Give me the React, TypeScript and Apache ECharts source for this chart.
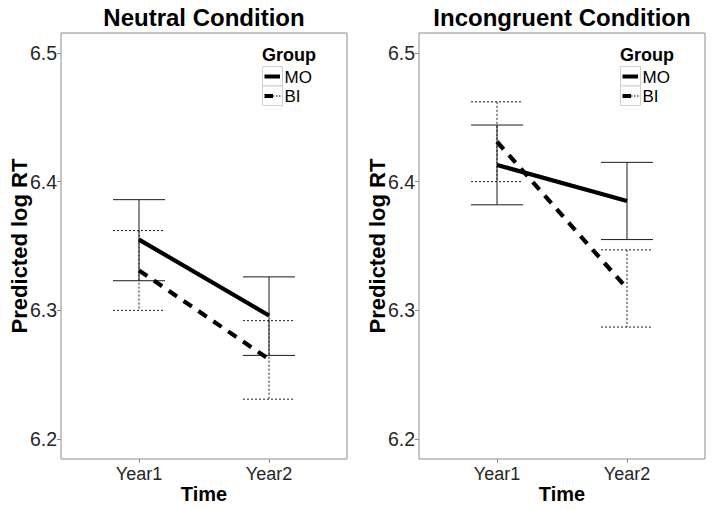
import React, { useEffect, useRef } from "react";
import * as echarts from "echarts";

const categories = ["Year1", "Year2"];
const groups = ["MO", "BI"];
const panelTitles = ["Neutral Condition", "Incongruent Condition"];
const yTicks = [6.2, 6.3, 6.4, 6.5];

const neutralMO = [6.355, 6.296];
const neutralMOLow = [6.323, 6.265];
const neutralMOHigh = [6.386, 6.326];
const neutralBI = [6.331, 6.262];
const neutralBILow = [6.3, 6.231];
const neutralBIHigh = [6.362, 6.292];

const incongMO = [6.413, 6.385];
const incongMOLow = [6.382, 6.355];
const incongMOHigh = [6.444, 6.415];
const incongBI = [6.431, 6.317];
const incongBILow = [6.4, 6.287];
const incongBIHigh = [6.462, 6.347];

const FONT = "'Liberation Sans', Arial, sans-serif";

const panels = [
  {
    mo: neutralMO, moLow: neutralMOLow, moHigh: neutralMOHigh,
    bi: neutralBI, biLow: neutralBILow, biHigh: neutralBIHigh,
  },
  {
    mo: incongMO, moLow: incongMOLow, moHigh: incongMOHigh,
    bi: incongBI, biLow: incongBILow, biHigh: incongBIHigh,
  },
];

const GRID_LEFTS = [61, 419];
const GRID_TOP = 33;
const GRID_W = 286;
const GRID_H = 426;

function errRender(dashed: boolean) {
  return (params: any, api: any) => {
    const x = api.value(0);
    const lo = api.value(1);
    const hi = api.value(2);
    const top = api.coord([x, hi]);
    const bot = api.coord([x, lo]);
    const hw = api.size([0.2, 0])[0];
    const style = {
      stroke: "#1a1a1a",
      lineWidth: 1,
      lineDash: dashed ? [2, 2] : null,
      fill: null,
    };
    return {
      type: "group",
      children: [
        { type: "line", shape: { x1: top[0], y1: top[1], x2: bot[0], y2: bot[1] }, style },
        { type: "line", shape: { x1: top[0] - hw, y1: top[1], x2: top[0] + hw, y2: top[1] }, style },
        { type: "line", shape: { x1: bot[0] - hw, y1: bot[1], x2: bot[0] + hw, y2: bot[1] }, style },
      ],
    };
  };
}

export default function App() {
  const ref = useRef<HTMLDivElement>(null);
  useEffect(() => {
    if (!ref.current) return;
    const chart = echarts.init(ref.current, undefined, { renderer: "svg" });

    const grids = GRID_LEFTS.map((l) => ({
      left: l,
      top: GRID_TOP,
      width: GRID_W,
      height: GRID_H,
      show: true,
      borderColor: "#8c8c8c",
      borderWidth: 1,
      backgroundColor: "transparent",
    }));

    const xAxes = GRID_LEFTS.map((_, i) => ({
      type: "value",
      gridIndex: i,
      min: 0.4,
      max: 2.6,
      axisLine: { show: false },
      splitLine: { show: false },
      axisTick: { show: true, length: 4, customValues: [1, 2], lineStyle: { color: "#8c8c8c" } },
      axisLabel: {
        customValues: [1, 2],
        formatter: (v: number) => categories[Math.round(v) - 1],
        color: "#262626",
        fontFamily: FONT,
        fontSize: 18,
        margin: 6,
      },
    }));

    const yAxes = GRID_LEFTS.map((_, i) => ({
      type: "value",
      gridIndex: i,
      min: 6.1845,
      max: 6.5155,
      axisLine: { show: false },
      splitLine: { show: false },
      axisTick: { show: true, length: 4, customValues: yTicks, lineStyle: { color: "#8c8c8c" } },
      axisLabel: {
        customValues: yTicks,
        formatter: (v: number) => v.toFixed(1),
        color: "#262626",
        fontFamily: FONT,
        fontSize: 19.5,
        margin: 4,
      },
    }));

    const series: any[] = [];
    panels.forEach((p, i) => {
      series.push({
        type: "custom",
        name: groups[0] + " err",
        xAxisIndex: i,
        yAxisIndex: i,
        renderItem: errRender(false),
        encode: { x: 0, y: [1, 2] },
        data: categories.map((_, k) => [k + 1, p.moLow[k], p.moHigh[k]]),
        z: 2,
      });
      series.push({
        type: "custom",
        name: groups[1] + " err",
        xAxisIndex: i,
        yAxisIndex: i,
        renderItem: errRender(true),
        encode: { x: 0, y: [1, 2] },
        data: categories.map((_, k) => [k + 1, p.biLow[k], p.biHigh[k]]),
        z: 2,
      });
      series.push({
        type: "line",
        name: groups[0],
        xAxisIndex: i,
        yAxisIndex: i,
        data: categories.map((_, k) => [k + 1, p.mo[k]]),
        showSymbol: false,
        lineStyle: { color: "#000", width: 4.2, type: "solid", cap: "butt" },
        z: 3,
      });
      series.push({
        type: "line",
        name: groups[1],
        xAxisIndex: i,
        yAxisIndex: i,
        data: categories.map((_, k) => [k + 1, p.bi[k]]),
        showSymbol: false,
        lineStyle: { color: "#000", width: 4.2, type: [10, 8], cap: "butt" },
        z: 3,
      });
    });

    const graphics: any[] = [];
    GRID_LEFTS.forEach((l, i) => {
      const dx = l - GRID_LEFTS[0];
      const cx = l + GRID_W / 2;
      graphics.push({
        type: "text",
        x: cx,
        y: 17,
        style: { text: panelTitles[i], font: `bold 24px ${FONT}`, fill: "#000", align: "center", verticalAlign: "middle" },
      });
      graphics.push({
        type: "text",
        x: 19 + dx,
        y: GRID_TOP + GRID_H / 2,
        rotation: Math.PI / 2,
        style: { text: "Predicted log RT", font: `bold 22px ${FONT}`, fill: "#000", align: "center", verticalAlign: "middle" },
      });
      graphics.push({
        type: "text",
        x: cx,
        y: 494,
        style: { text: "Time", font: `bold 20px ${FONT}`, fill: "#000", align: "center", verticalAlign: "middle" },
      });
      // legend
      const lx = 262 + dx;
      graphics.push({
        type: "text",
        x: lx,
        y: 55,
        style: { text: "Group", font: `bold 18px ${FONT}`, fill: "#000", align: "left", verticalAlign: "middle" },
      });
      graphics.push({
        type: "rect",
        shape: { x: lx + 0.5, y: 66.5, width: 20, height: 19.5 },
        style: { fill: "#fff", stroke: "#d0d0d0", lineWidth: 1 },
      });
      graphics.push({
        type: "rect",
        shape: { x: lx + 0.5, y: 86, width: 20, height: 19.5 },
        style: { fill: "#fff", stroke: "#d0d0d0", lineWidth: 1 },
      });
      graphics.push({
        type: "line",
        shape: { x1: lx + 2.5, y1: 76.5, x2: lx + 18, y2: 76.5 },
        style: { stroke: "#000", lineWidth: 4 },
      });
      graphics.push({
        type: "line",
        shape: { x1: lx + 2.5, y1: 96, x2: lx + 11, y2: 96 },
        style: { stroke: "#000", lineWidth: 4 },
      });
      graphics.push({
        type: "line",
        shape: { x1: lx + 11, y1: 96, x2: lx + 18.5, y2: 96 },
        style: { stroke: "#000", lineWidth: 1, lineDash: [1.5, 1.5] },
      });
      graphics.push({
        type: "text",
        x: lx + 22.5,
        y: 77,
        style: { text: groups[0], font: `17px ${FONT}`, fill: "#000", align: "left", verticalAlign: "middle" },
      });
      graphics.push({
        type: "text",
        x: lx + 22.5,
        y: 96.5,
        style: { text: groups[1], font: `17px ${FONT}`, fill: "#000", align: "left", verticalAlign: "middle" },
      });
    });

    chart.setOption({
      animation: false,
      backgroundColor: "#fff",
      grid: grids,
      xAxis: xAxes,
      yAxis: yAxes,
      series,
      graphic: graphics,
    });
    return () => chart.dispose();
  }, []);

  return (
    <div
      ref={ref}
      style={{ position: "fixed", left: 0, top: 0, width: 714, height: 509, background: "#fff" }}
    />
  );
}
